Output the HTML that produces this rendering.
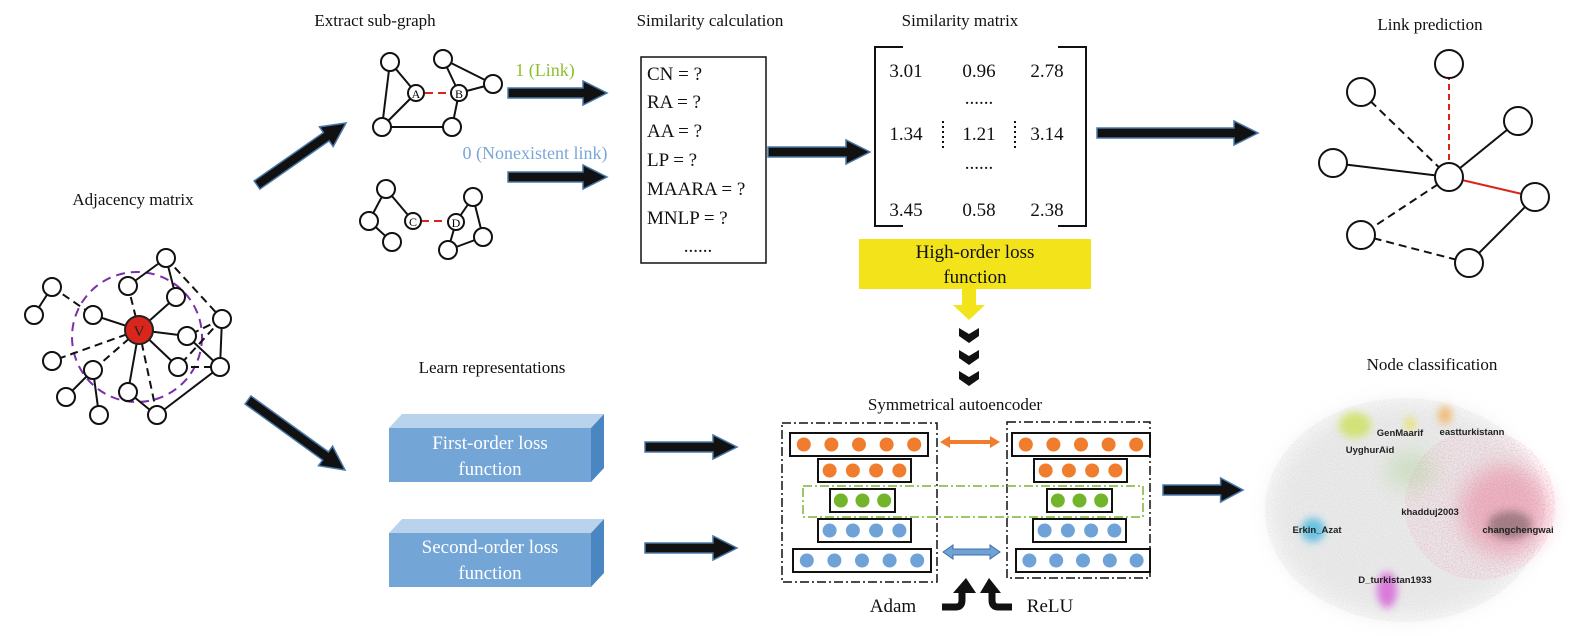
<!DOCTYPE html>
<html><head><meta charset="utf-8"><style>
html,body{margin:0;padding:0;background:#fff;}
svg{display:block;font-family:"Liberation Serif",serif;}
.t{font-size:17px;fill:#111;text-anchor:middle;}
.n{fill:#fff;stroke:#111;stroke-width:2;}
.e{stroke:#111;stroke-width:2;}
.d{stroke:#111;stroke-width:2;stroke-dasharray:8 5;}
.m{font-size:19px;fill:#111;}
.lbl{font-family:"Liberation Sans",sans-serif;font-weight:bold;font-size:9.5px;fill:#222;text-anchor:middle;}
</style></head><body>
<svg id="s" width="1584" height="636" viewBox="0 0 1584 636" xmlns="http://www.w3.org/2000/svg">
<defs>
<filter id="bl" x="-50%" y="-50%" width="200%" height="200%"><feGaussianBlur stdDeviation="10"/></filter>
<filter id="bl2" x="-50%" y="-50%" width="200%" height="200%"><feGaussianBlur stdDeviation="4"/></filter>
<filter id="noise"><feTurbulence type="fractalNoise" baseFrequency="0.9" numOctaves="2" seed="3"/><feColorMatrix type="matrix" values="0 0 0 0 0.45  0 0 0 0 0.45  0 0 0 0 0.45  0 0 0 -1.6 1.1"/></filter>
<filter id="pnoise"><feTurbulence type="fractalNoise" baseFrequency="0.7" numOctaves="2" seed="7"/><feColorMatrix type="matrix" values="0 0 0 0 0.92  0 0 0 0 0.3  0 0 0 0 0.45  0 0 0 -2 1.2"/></filter>
<clipPath id="hz"><ellipse cx="1405" cy="510" rx="140" ry="112"/></clipPath>
<clipPath id="pz"><ellipse cx="1480" cy="505" rx="75" ry="75"/></clipPath>
</defs>

<text class="t" x="375" y="26">Extract sub-graph</text>
<text class="t" x="710" y="26">Similarity calculation</text>
<text class="t" x="960" y="26">Similarity matrix</text>
<text class="t" x="1430" y="30">Link prediction</text>
<text class="t" x="133" y="205">Adjacency matrix</text>
<text class="t" x="492" y="373">Learn representations</text>
<text class="t" x="955" y="410">Symmetrical autoencoder</text>
<text class="t" x="1432" y="370">Node classification</text>

<g>
<circle cx="137" cy="337" r="65" fill="none" stroke="#7b2fa8" stroke-width="2" stroke-dasharray="9 6"/>
<line class="e" x1="139" y1="330" x2="176" y2="297"/><line class="e" x1="139" y1="330" x2="187" y2="336"/>
<line class="e" x1="139" y1="330" x2="93" y2="315"/><line class="e" x1="139" y1="330" x2="178" y2="367"/>
<line class="e" x1="139" y1="330" x2="128" y2="392"/><line class="d" x1="139" y1="330" x2="128" y2="286"/>
<line class="d" x1="139" y1="330" x2="93" y2="370"/><line class="d" x1="139" y1="330" x2="52" y2="361"/>
<line class="d" x1="139" y1="330" x2="157" y2="415"/>
<line class="e" x1="128" y1="286" x2="166" y2="258"/><line class="e" x1="166" y1="258" x2="176" y2="297"/>
<line class="d" x1="166" y1="258" x2="222" y2="319"/><line class="e" x1="52" y1="287" x2="34" y2="315"/>
<line class="d" x1="52" y1="287" x2="93" y2="315"/><line class="e" x1="222" y1="319" x2="220" y2="367"/>
<line class="d" x1="222" y1="319" x2="187" y2="336"/><line class="d" x1="222" y1="319" x2="178" y2="367"/>
<line class="e" x1="187" y1="336" x2="220" y2="367"/><line class="d" x1="178" y1="367" x2="220" y2="367"/>
<line class="e" x1="220" y1="367" x2="157" y2="415"/><line class="e" x1="93" y1="370" x2="66" y2="397"/>
<line class="e" x1="93" y1="370" x2="99" y2="415"/><line class="e" x1="128" y1="392" x2="150" y2="410"/>
<circle class="n" cx="166" cy="258" r="9"/><circle class="n" cx="128" cy="286" r="9"/><circle class="n" cx="52" cy="287" r="9"/>
<circle class="n" cx="34" cy="315" r="9"/><circle class="n" cx="93" cy="315" r="9"/><circle class="n" cx="176" cy="297" r="9"/>
<circle class="n" cx="222" cy="319" r="9"/><circle class="n" cx="187" cy="336" r="9"/><circle class="n" cx="52" cy="361" r="9"/>
<circle class="n" cx="93" cy="370" r="9"/><circle class="n" cx="178" cy="367" r="9"/><circle class="n" cx="220" cy="367" r="9"/>
<circle class="n" cx="128" cy="392" r="9"/><circle class="n" cx="66" cy="397" r="9"/><circle class="n" cx="99" cy="415" r="9"/>
<circle class="n" cx="157" cy="415" r="9"/>
<circle cx="139" cy="330" r="14" fill="#d9261c" stroke="#222" stroke-width="2"/>
<text x="139" y="336" font-size="15" text-anchor="middle" fill="#222">V</text>
</g>

<g>
<line class="e" x1="390" y1="62" x2="416" y2="93"/><line class="e" x1="390" y1="62" x2="382" y2="127"/>
<line class="e" x1="416" y1="93" x2="382" y2="127"/><line class="e" x1="382" y1="127" x2="452" y2="127"/>
<line class="e" x1="452" y1="127" x2="459" y2="93"/><line class="e" x1="443" y1="59" x2="493" y2="84"/>
<line class="e" x1="459" y1="93" x2="493" y2="84"/><line class="e" x1="443" y1="59" x2="459" y2="93"/>
<line x1="425" y1="93" x2="450" y2="93" stroke="#d9261c" stroke-width="2" stroke-dasharray="8 5"/>
<circle class="n" cx="390" cy="62" r="9"/><circle class="n" cx="443" cy="59" r="9"/><circle class="n" cx="493" cy="84" r="9"/>
<circle class="n" cx="382" cy="127" r="9"/><circle class="n" cx="452" cy="127" r="9"/>
<circle class="n" cx="416" cy="93" r="8"/><circle class="n" cx="459" cy="93" r="8"/>
<text x="416" y="98" font-size="12" text-anchor="middle">A</text><text x="459" y="98" font-size="12" text-anchor="middle">B</text>
</g>
<g>
<line class="e" x1="386" y1="189" x2="369" y2="221"/><line class="e" x1="369" y1="221" x2="392" y2="242"/>
<line class="e" x1="386" y1="189" x2="413" y2="221"/><line class="e" x1="456" y1="222" x2="473" y2="197"/>
<line class="e" x1="473" y1="197" x2="483" y2="237"/><line class="e" x1="483" y1="237" x2="448" y2="250"/>
<line class="e" x1="448" y1="250" x2="456" y2="222"/>
<line x1="421" y1="221" x2="448" y2="221" stroke="#d9261c" stroke-width="2" stroke-dasharray="8 5"/>
<circle class="n" cx="386" cy="189" r="9"/><circle class="n" cx="369" cy="221" r="9"/><circle class="n" cx="392" cy="242" r="9"/>
<circle class="n" cx="473" cy="197" r="9"/><circle class="n" cx="483" cy="237" r="9"/><circle class="n" cx="448" cy="250" r="9"/>
<circle class="n" cx="413" cy="221" r="8"/><circle class="n" cx="456" cy="222" r="8"/>
<text x="413" y="226" font-size="12" text-anchor="middle">C</text><text x="456" y="227" font-size="12" text-anchor="middle">D</text>
</g>
<text x="545" y="76" font-size="18" fill="#8cbf2f" text-anchor="middle">1 (Link)</text>
<text x="535" y="159" font-size="18" fill="#7aa7d8" text-anchor="middle">0 (Nonexistent link)</text>

<g>
<rect x="641" y="57" width="125" height="206" fill="#fff" stroke="#111" stroke-width="1.5"/>
<text class="m" x="647" y="80">CN = ?</text><text class="m" x="647" y="108">RA = ?</text>
<text class="m" x="647" y="137">AA = ?</text><text class="m" x="647" y="166">LP = ?</text>
<text class="m" x="647" y="195">MAARA = ?</text><text class="m" x="647" y="224">MNLP = ?</text>
<text class="m" x="698" y="252" text-anchor="middle">......</text>
</g>

<g>
<path d="M903 47 H875 V226 H903 M1058 47 H1086 V226 H1058" fill="none" stroke="#111" stroke-width="2"/>
<text class="m" x="906" y="77" text-anchor="middle">3.01</text><text class="m" x="979" y="77" text-anchor="middle">0.96</text><text class="m" x="1047" y="77" text-anchor="middle">2.78</text>
<text class="m" x="979" y="104" text-anchor="middle">......</text>
<text class="m" x="906" y="140" text-anchor="middle">1.34</text><text class="m" x="979" y="140" text-anchor="middle">1.21</text><text class="m" x="1047" y="140" text-anchor="middle">3.14</text>
<text class="m" x="979" y="169" text-anchor="middle">......</text>
<text class="m" x="906" y="216" text-anchor="middle">3.45</text><text class="m" x="979" y="216" text-anchor="middle">0.58</text><text class="m" x="1047" y="216" text-anchor="middle">2.38</text>
<line x1="943" y1="121" x2="943" y2="150" stroke="#111" stroke-width="2" stroke-dasharray="2 3"/>
<line x1="1015" y1="121" x2="1015" y2="150" stroke="#111" stroke-width="2" stroke-dasharray="2 3"/>
</g>

<g>
<rect x="859" y="239" width="232" height="50" fill="#f3e31a"/>
<text class="m" x="975" y="258" text-anchor="middle" font-size="18">High-order loss</text>
<text class="m" x="975" y="283" text-anchor="middle" font-size="18">function</text>
<polygon points="962,289 976,289 976,305 985,305 969,320 953,305 962,305" fill="#f3e31a"/>
</g>
<g fill="#111">
<polygon points="959,328 969,334 979,328 979,336 969,343 959,336"/>
<polygon points="959,350 969,356 979,350 979,358 969,365 959,358"/>
<polygon points="959,371 969,377 979,371 979,379 969,386 959,379"/>
</g>

<g>
<line x1="1449" y1="64" x2="1449" y2="177" stroke="#d9261c" stroke-width="2" stroke-dasharray="6 4"/>
<line class="d" x1="1361" y1="92" x2="1449" y2="177" stroke-width="1.6"/>
<line class="e" x1="1518" y1="121" x2="1449" y2="177" stroke-width="1.6"/>
<line class="e" x1="1333" y1="163" x2="1449" y2="177" stroke-width="1.6"/>
<line x1="1449" y1="177" x2="1535" y2="197" stroke="#d9261c" stroke-width="2"/>
<line class="d" x1="1449" y1="177" x2="1361" y2="235" stroke-width="1.6"/>
<line class="d" x1="1361" y1="235" x2="1469" y2="263" stroke-width="1.6"/>
<line class="e" x1="1469" y1="263" x2="1535" y2="197" stroke-width="1.6"/>
<circle class="n" cx="1449" cy="64" r="14"/><circle class="n" cx="1361" cy="92" r="14"/><circle class="n" cx="1518" cy="121" r="14"/>
<circle class="n" cx="1333" cy="163" r="14"/><circle class="n" cx="1449" cy="177" r="14"/><circle class="n" cx="1535" cy="197" r="14"/>
<circle class="n" cx="1361" cy="235" r="14"/><circle class="n" cx="1469" cy="263" r="14"/>
</g>

<g>
<polygon points="389,428 402,414 604,414 591,428" fill="#b9d3ed"/>
<polygon points="591,428 604,414 604,468 591,482" fill="#4a86c2"/>
<rect x="389" y="428" width="202" height="54" fill="#73a5d6"/>
<text x="490" y="449" font-size="19" fill="#fff" text-anchor="middle">First-order loss</text>
<text x="490" y="475" font-size="19" fill="#fff" text-anchor="middle">function</text>
</g>
<g>
<polygon points="389,533 402,519 604,519 591,533" fill="#b9d3ed"/>
<polygon points="591,533 604,519 604,573 591,587" fill="#4a86c2"/>
<rect x="389" y="533" width="202" height="54" fill="#73a5d6"/>
<text x="490" y="553" font-size="19" fill="#fff" text-anchor="middle">Second-order loss</text>
<text x="490" y="579" font-size="19" fill="#fff" text-anchor="middle">function</text>
</g>

<g id="ae">
<rect x="782" y="423" width="155" height="159" fill="none" stroke="#111" stroke-width="1.5" stroke-dasharray="9 3 2 3"/>
<rect x="1007" y="422" width="143" height="156" fill="none" stroke="#111" stroke-width="1.5" stroke-dasharray="9 3 2 3"/>
<rect x="803" y="486" width="340" height="31" fill="none" stroke="#7ab535" stroke-width="1.5" stroke-dasharray="9 3 2 3"/>
</g>
<g><polygon points="940,442 950,436 950,440 990,440 990,436 1000,442 990,448 990,444 950,444 950,448" fill="#ef7d2d"/></g>
<g><polygon points="943,552 953,545 953,549 990,549 990,545 1000,552 990,559 990,555 953,555 953,559" fill="#6fa3d8" stroke="#3f6fa6" stroke-width="1"/></g>
<text class="m" x="893" y="612" text-anchor="middle">Adam</text>
<text class="m" x="1050" y="612" text-anchor="middle">ReLU</text>
<g><path d="M942 607 H956 Q962 607 962 600 V592" fill="none" stroke="#111" stroke-width="7"/><polygon points="953,593 966,578 976,593" fill="#111"/></g>
<g><path d="M1012 607 H998 Q992 607 992 600 V592" fill="none" stroke="#111" stroke-width="7"/><polygon points="980,593 989,578 1001,593" fill="#111"/></g>

<g>
<ellipse cx="1405" cy="510" rx="135" ry="108" fill="#d8d8d8" opacity="0.45" filter="url(#bl)"/>
<rect x="1255" y="390" width="300" height="240" filter="url(#noise)" opacity="0.3" clip-path="url(#hz)"/>
<rect x="1400" y="430" width="160" height="160" filter="url(#pnoise)" opacity="0.55" clip-path="url(#pz)"/>
<ellipse cx="1505" cy="510" rx="45" ry="45" fill="#e8456e" opacity="0.3" filter="url(#bl)"/>
<ellipse cx="1410" cy="470" rx="25" ry="20" fill="#9ccc7a" opacity="0.3" filter="url(#bl)"/>
<ellipse cx="1313" cy="530" rx="12" ry="12" fill="#4ab8e0" opacity="0.8" filter="url(#bl2)"/>
<ellipse cx="1387" cy="590" rx="10" ry="18" fill="#d65ed8" opacity="0.8" filter="url(#bl2)"/>
<ellipse cx="1355" cy="425" rx="16" ry="13" fill="#c9e04a" opacity="0.7" filter="url(#bl2)"/>
<ellipse cx="1445" cy="415" rx="7" ry="9" fill="#f2a94a" opacity="0.7" filter="url(#bl2)"/>
<ellipse cx="1410" cy="424" rx="5" ry="7" fill="#e8e040" opacity="0.7" filter="url(#bl2)"/>
<ellipse cx="1510" cy="525" rx="22" ry="14" fill="#222" opacity="0.35" filter="url(#bl2)"/>
<text class="lbl" x="1400" y="436">GenMaarif</text><text class="lbl" x="1472" y="435">eastturkistann</text>
<text class="lbl" x="1370" y="453">UyghurAid</text><text class="lbl" x="1430" y="515">khadduj2003</text>
<text class="lbl" x="1317" y="533">Erkin_Azat</text><text class="lbl" x="1518" y="533">changchengwai</text>
<text class="lbl" x="1395" y="583">D_turkistan1933</text>
</g>
</svg>
<script>
const S='http://www.w3.org/2000/svg';
const svg=document.getElementById('s');
const arrows=[[508,93,607,93,'link-arrow'],[508,177,607,177,'nonlink-arrow'],[768,152,870,152,'to-matrix-arrow'],
[1097,133,1258,133,'to-link-prediction-arrow'],[257,185,346,123,'to-subgraph-arrow'],[248,400,345,470,'to-representations-arrow'],
[645,447,737,447,'first-order-arrow'],[645,548,737,548,'second-order-arrow'],[1163,490,1243,490,'to-node-classification-arrow']];
arrows.forEach(a=>{
 const dx=a[2]-a[0],dy=a[3]-a[1],L=Math.hypot(dx,dy),ang=Math.atan2(dy,dx)*180/Math.PI;
 const p=document.createElementNS(S,'polygon');
 const h=Math.min(24,L*0.28);
 p.setAttribute('points',`0,-5 ${L-h},-5 ${L-h},-12 ${L},0 ${L-h},12 ${L-h},5 0,5`);
 p.setAttribute('fill','#111');p.setAttribute('stroke','#4a78a8');p.setAttribute('stroke-width','1.5');
 p.setAttribute('transform',`translate(${a[0]},${a[1]}) rotate(${ang})`);
 
 
 svg.appendChild(p);
});
const ae=document.getElementById('ae');
const layers=[[790,928,433,5,'#ef7d2d'],[818,911,459,4,'#ef7d2d'],[830,895,489,3,'#72b52a'],[818,911,519,4,'#6fa3d8'],[793,931,549,5,'#6fa3d8'],
[1012,1150,433,5,'#ef7d2d'],[1034,1127,459,4,'#ef7d2d'],[1047,1112,489,3,'#72b52a'],[1033,1126,519,4,'#6fa3d8'],[1016,1150,549,5,'#6fa3d8']];
layers.forEach(l=>{
 const g=document.createElementNS(S,'g');
 
 
 const r=document.createElementNS(S,'rect');
 r.setAttribute('x',l[0]);r.setAttribute('y',l[2]);r.setAttribute('width',l[1]-l[0]);r.setAttribute('height',23);
 r.setAttribute('fill','#fff');r.setAttribute('stroke','#111');r.setAttribute('stroke-width','2');g.appendChild(r);
 const n=l[3],w=l[1]-l[0],step=w/n;
 for(let i=0;i<n;i++){const c=document.createElementNS(S,'circle');
  c.setAttribute('cx',l[0]+step*(i+0.5));c.setAttribute('cy',l[2]+11.5);c.setAttribute('r',7);c.setAttribute('fill',l[4]);
  
  
  g.appendChild(c);}
 ae.appendChild(g);
});
</script>
</body></html>
